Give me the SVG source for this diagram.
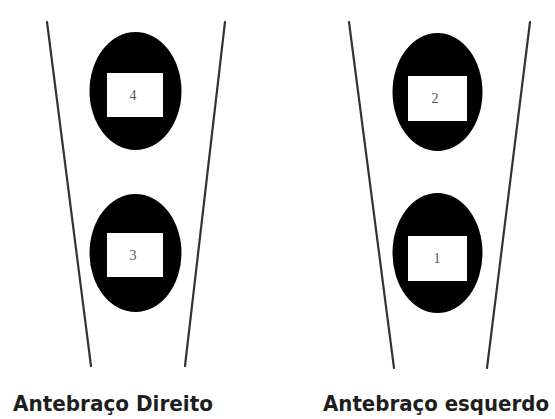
<svg xmlns="http://www.w3.org/2000/svg" width="555" height="419" viewBox="0 0 555 419">
  <style>
    .edge { stroke: #333; stroke-width: 2.2; fill: none; stroke-linecap: round; }
    .pad { fill: #000; }
    .box { fill: #fff; }
    .num { font-family: "Liberation Serif", serif; font-size: 14px; fill: #555; text-anchor: middle; }
    .label { font-family: "DejaVu Sans Condensed", "DejaVu Sans", sans-serif; font-stretch: condensed; font-weight: bold; font-size: 22px; fill: #1e1e1e; }
  </style>
  <rect width="555" height="419" fill="#fff"/>

  <!-- forearm outlines -->
  <g id="outlines">
    <line class="edge" x1="47" y1="22" x2="91" y2="366"/>
    <line class="edge" x1="225" y1="22" x2="185" y2="366"/>
    <line class="edge" x1="349" y1="22" x2="394" y2="368"/>
    <line class="edge" x1="530" y1="22" x2="487" y2="368"/>
  </g>

  <g id="electrode-4">
    <ellipse class="pad" cx="135.5" cy="91" rx="46" ry="59"/>
    <rect class="box" x="107" y="73" width="56" height="44"/>
    <text class="num" x="133" y="100">4</text>
  </g>
  <g id="electrode-3">
    <ellipse class="pad" cx="135.5" cy="253" rx="46" ry="59"/>
    <rect class="box" x="107" y="233" width="56" height="44"/>
    <text class="num" x="133" y="260">3</text>
  </g>
  <g id="electrode-2">
    <ellipse class="pad" cx="437.5" cy="92" rx="45" ry="59"/>
    <rect class="box" x="408" y="76" width="59" height="45"/>
    <text class="num" x="435" y="103">2</text>
  </g>
  <g id="electrode-1">
    <ellipse class="pad" cx="437.5" cy="253" rx="45" ry="60"/>
    <rect class="box" x="408" y="236" width="59" height="45"/>
    <text class="num" x="437" y="263">1</text>
  </g>

  <g id="captions">
    <text class="label" x="13" y="411" textLength="200" lengthAdjust="spacingAndGlyphs">Antebraço Direito</text>
    <text class="label" x="323" y="411" textLength="226" lengthAdjust="spacingAndGlyphs">Antebraço esquerdo</text>
  </g>
</svg>
